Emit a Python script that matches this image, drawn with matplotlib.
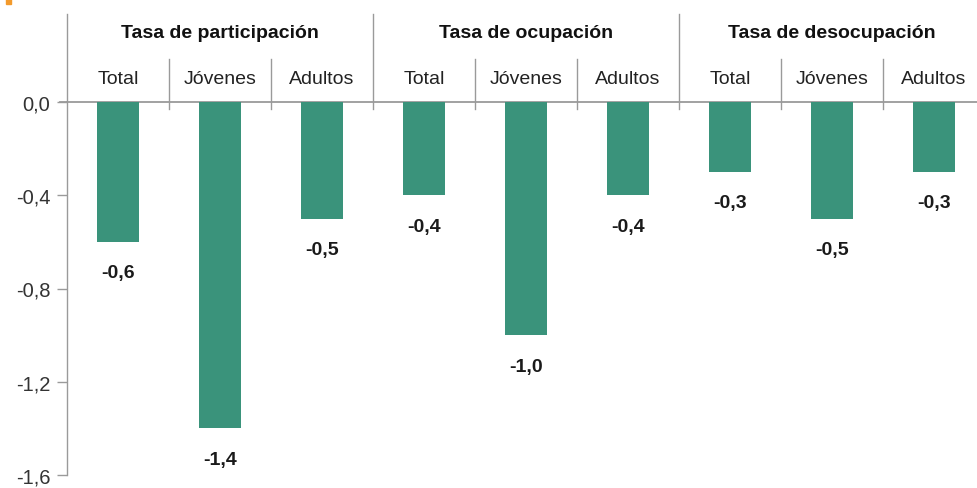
import matplotlib
matplotlib.use("Agg")
import matplotlib.pyplot as plt
from matplotlib.patches import Rectangle

groups = ["Tasa de participación", "Tasa de ocupación", "Tasa de desocupación"]
subcats = ["Total", "Jóvenes", "Adultos"]
values = [-0.6, -1.4, -0.5, -0.4, -1.0, -0.4, -0.3, -0.5, -0.3]
value_labels = ["-0,6", "-1,4", "-0,5", "-0,4", "-1,0", "-0,4", "-0,3", "-0,5", "-0,3"]
yticks = [0.0, -0.4, -0.8, -1.2, -1.6]
ytick_labels = ["0,0", "-0,4", "-0,8", "-1,2", "-1,6"]

FONT = ["Liberation Sans", "DejaVu Sans"]
plt.rcParams["font.family"] = FONT

W, H = 978, 489
fig = plt.figure(figsize=(W / 100, H / 100), dpi=100)
left_px, right_px = 67, 67 + 9 * 102
zero_px, bottom_px = 103, 476
unit = (bottom_px - zero_px) / 1.6
top_val = (zero_px - 15) / unit
ax = fig.add_axes([left_px / W, (H - bottom_px) / H, (right_px - left_px) / W,
                   (bottom_px - 15) / H])
ax.set_xlim(-0.5, 8.5)
ax.set_ylim(-1.6, top_val)

grey = "#9a9a9a"
x = list(range(len(values)))
ax.bar(x, values, width=0.42, color="#3a937b", zorder=3)
for xi, v, lab in zip(x, values, value_labels):
    ax.annotate(lab, (xi, v), xytext=(0, -31), textcoords="offset pixels",
                ha="center", va="center", fontsize=14, fontweight="bold", color="#1a1a1a")

ax.axhline(0, color=grey, lw=1.3, zorder=2, clip_on=False)
ax.plot([-0.5 - 7 / 102, -0.5], [0, 0], color=grey, lw=1.3, clip_on=False)

for s in ["top", "right", "bottom"]:
    ax.spines[s].set_visible(False)
ax.spines["left"].set_color(grey)
ax.spines["left"].set_linewidth(1.0)
ax.set_xticks([])
ax.set_yticks(yticks)
ax.set_yticklabels(ytick_labels, fontsize=14.5, color="#333333")
ax.tick_params(axis="y", length=7, color=grey, width=1.0, pad=5)

# header separators and labels
sub_top = (zero_px - 60) / unit
ext = -7 / unit
for i in range(1, 9):
    xs = i - 0.5
    if i % 3 == 0:
        ax.plot([xs, xs], [ext, top_val], color=grey, lw=1.0, clip_on=False)
    else:
        ax.plot([xs, xs], [ext, sub_top], color=grey, lw=1.0, clip_on=False)

sub_y = (zero_px - 80) / unit
grp_y = (zero_px - 34) / unit
for i in range(9):
    ax.text(i, sub_y, subcats[i % 3], ha="center", va="center", fontsize=14, color="#222222")
for g, name in enumerate(groups):
    ax.text(3 * g + 1, grp_y, name, ha="center", va="center", fontsize=14,
            fontweight="bold", color="#111111")

fig.patches.append(Rectangle((6 / W, 1 - 5 / H), 5 / W, 5 / H, transform=fig.transFigure,
                             color="#f39a2c", figure=fig))

fig.savefig("out.png", dpi=100)
